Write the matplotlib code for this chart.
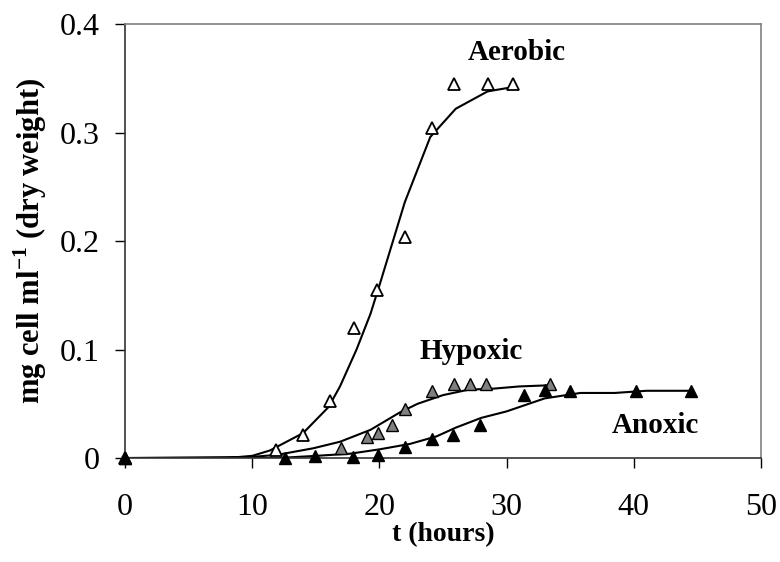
import matplotlib
matplotlib.use("Agg")
import matplotlib.pyplot as plt

plt.rcParams['font.family'] = ['Liberation Serif', 'DejaVu Serif']
plt.rcParams['mathtext.fontset'] = 'custom'
plt.rcParams['mathtext.rm'] = 'Liberation Serif'
plt.rcParams['mathtext.bf'] = 'Liberation Serif:bold'

# measured points
aer_t = [0, 11.9, 14.0, 16.1, 18.0, 19.8, 22.0, 24.1, 25.9, 28.5, 30.5]
aer_v = [0, 0.007, 0.021, 0.053, 0.120, 0.155, 0.204, 0.304, 0.345, 0.345, 0.345]
hyp_t = [0, 17.0, 19.0, 19.9, 21.0, 22.0, 24.1, 25.9, 27.1, 28.4, 33.4]
hyp_v = [0, 0.009, 0.019, 0.023, 0.030, 0.045, 0.062, 0.068, 0.068, 0.068, 0.068]
ano_t = [0, 12.6, 14.9, 17.9, 19.9, 22.0, 24.1, 25.8, 27.9, 31.4, 33.0, 35.0, 40.2, 44.5]
ano_v = [0, 0, 0.002, 0.001, 0.003, 0.010, 0.018, 0.021, 0.030, 0.058, 0.063, 0.062, 0.062, 0.062]

# fitted curves
aer_fit_t = [0, 8, 10, 11.4, 14.0, 16.0, 16.9, 18.2, 19.3, 20.05, 22, 24, 26, 28.5, 30.5]
aer_fit_v = [0, 0, 0.002, 0.007, 0.023, 0.047, 0.066, 0.100, 0.133, 0.161, 0.236, 0.296, 0.322, 0.338, 0.342]
hyp_fit_t = [0, 10, 12, 14.8, 16.9, 19.3, 21.6, 23, 25, 27, 29, 31, 33.2]
hyp_fit_v = [0, 0.001, 0.003, 0.009, 0.015, 0.026, 0.042, 0.050, 0.058, 0.063, 0.064, 0.066, 0.067]
ano_fit_t = [0, 12, 15, 17.7, 20, 22.4, 24.5, 26, 28, 30, 31.5, 33, 35.8, 38.5, 41, 44.5]
ano_fit_v = [0, 0, 0.002, 0.004, 0.008, 0.013, 0.020, 0.028, 0.037, 0.043, 0.049, 0.055, 0.060, 0.060, 0.062, 0.062]

fig = plt.figure(figsize=(7.8, 5.62), dpi=100)
ax = fig.add_axes([0.1603, 0.185, 0.8153, 0.772])

lw = 1.5
ax.plot(aer_fit_t, aer_fit_v, color='black', lw=lw, zorder=2)
ax.plot(hyp_fit_t, hyp_fit_v, color='black', lw=lw, zorder=2)
ax.plot(ano_fit_t, ano_fit_v, color='black', lw=lw, zorder=2)

ms = 9
ax.plot(aer_t, aer_v, ls='none', marker='^', ms=ms, mfc='white', mec='black', mew=1.3, zorder=3, clip_on=False)
ax.plot(hyp_t, hyp_v, ls='none', marker='^', ms=ms, mfc='#808080', mec='black', mew=1.0, zorder=3, clip_on=False)
ax.plot(ano_t, ano_v, ls='none', marker='^', ms=ms, mfc='black', mec='black', mew=1.0, zorder=4, clip_on=False)

ax.text(30.8, 0.374, 'Aerobic', fontsize=21, fontweight='bold', ha='center', va='center')
ax.text(27.2, 0.098, 'Hypoxic', fontsize=21, fontweight='bold', ha='center', va='center')
ax.text(41.7, 0.030, 'Anoxic', fontsize=21, fontweight='bold', ha='center', va='center')

ax.set_xlim(0, 50)
ax.set_ylim(0, 0.4)
ax.set_xticks([0, 10, 20, 30, 40, 50])
ax.set_yticks([0, 0.1, 0.2, 0.3, 0.4])
ax.set_yticklabels(['0', '0.1', '0.2', '0.3', '0.4'])
ax.tick_params(direction='out', length=7, width=1, labelsize=23, colors='black')
ax.tick_params(axis='x', pad=18)
ax.tick_params(axis='y', pad=11)

ax.set_xlabel('t (hours)', fontsize=20, fontweight='bold', labelpad=0)
ax.set_ylabel(r'mg cell ml$^{\mathbf{-1}}$ (dry weight)', fontsize=22, fontweight='bold', labelpad=8)

for s in ['top', 'right']:
    ax.spines[s].set_color('#808080')
    ax.spines[s].set_linewidth(1.2)
for s in ['left', 'bottom']:
    ax.spines[s].set_color('#333333')
    ax.spines[s].set_linewidth(1.2)

fig.savefig('out.png', dpi=100)
